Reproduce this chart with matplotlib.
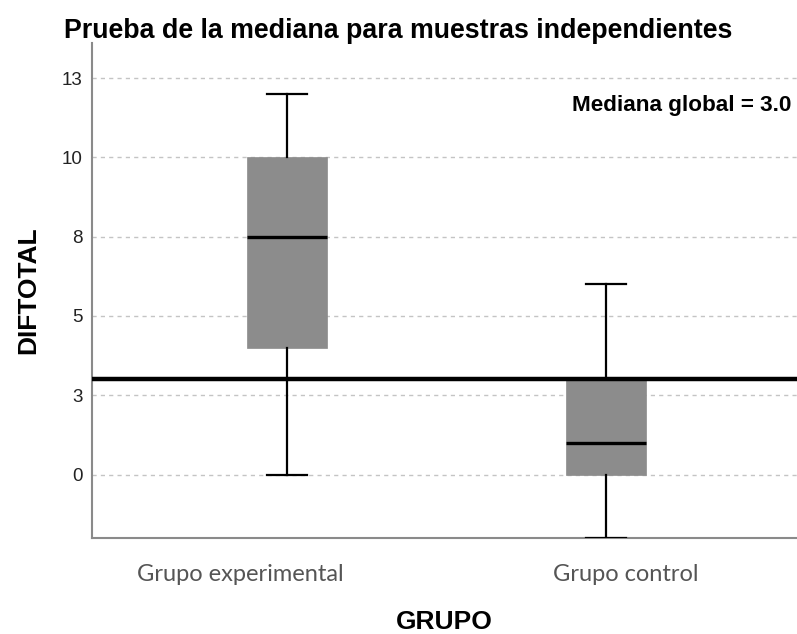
import matplotlib.pyplot as plt
from matplotlib.transforms import ScaledTranslation

# Box statistics
groups = ['Grupo experimental', 'Grupo control']
medians = [7.5, 1.0]
q1 = [4.0, 0.0]
q3 = [10.0, 3.0]
whisker_low = [0.0, -2.0]
whisker_high = [12.0, 6.0]
global_median = 3.0

ytick_values = [0, 2.5, 5, 7.5, 10, 12.5]
ytick_labels = ['0', '3', '5', '8', '10', '13']

stats = [dict(label=g, med=m, q1=a, q3=b, whislo=lo, whishi=hi, fliers=[])
         for g, m, a, b, lo, hi in zip(groups, medians, q1, q3, whisker_low, whisker_high)]

fig = plt.figure(figsize=(7.97, 6.34), dpi=100)
ax = fig.add_axes([0.1154, 0.1514, 0.8846, 0.7806])

ax.bxp(stats, positions=[1, 2], widths=0.25, capwidths=0.125, patch_artist=True,
       showfliers=False,
       boxprops=dict(facecolor='#8c8c8c', edgecolor='#8c8c8c', linewidth=0.5),
       medianprops=dict(color='black', linewidth=2.4),
       whiskerprops=dict(color='black', linewidth=1.6),
       capprops=dict(color='black', linewidth=1.6),
       zorder=3)

ax.axhline(global_median, color='black', linewidth=3.2, zorder=4)
ax.text(0.992, 0.874, f'Mediana global = {global_median:.1f}', transform=ax.transAxes,
        ha='right', va='center', fontsize=16.2, fontweight='bold',
        family=['Liberation Sans Narrow', 'Liberation Sans'])

ax.set_xlim(0.389, 2.599)
ax.set_ylim(-2, 13.6)
ax.set_yticks(ytick_values)
ax.set_yticklabels(ytick_labels, family='Liberation Sans', fontsize=13.5, color='#222222')
ax.yaxis.grid(True, linestyle=(0, (3, 3)), color='#c4c4c4', linewidth=1)
ax.set_axisbelow(True)
ax.tick_params(axis='y', length=0, pad=7)
ax.tick_params(axis='x', length=0, pad=19)

ax.set_xticks([1, 2])
ax.set_xticklabels(groups, family='Lato', fontsize=17, color='#555555')
shifts = [-0.47, 0.20]
for lab, dx in zip(ax.get_xticklabels(), shifts):
    lab.set_transform(lab.get_transform() + ScaledTranslation(dx, 0, fig.dpi_scale_trans))

for side in ['top', 'right']:
    ax.spines[side].set_visible(False)
for side in ['left', 'bottom']:
    ax.spines[side].set_color('#8a8a8a')
    ax.spines[side].set_linewidth(1.5)

ax.set_ylabel('DIFTOTAL', family='Liberation Sans', fontsize=19, fontweight='bold', labelpad=15)
ax.set_xlabel('GRUPO', family='Liberation Sans', fontsize=19, fontweight='bold', labelpad=18)
fig.suptitle('Prueba de la mediana para muestras independientes', family='Liberation Sans',
             fontsize=19.3, fontweight='bold', y=0.972)

plt.savefig('out.png', dpi=100)
